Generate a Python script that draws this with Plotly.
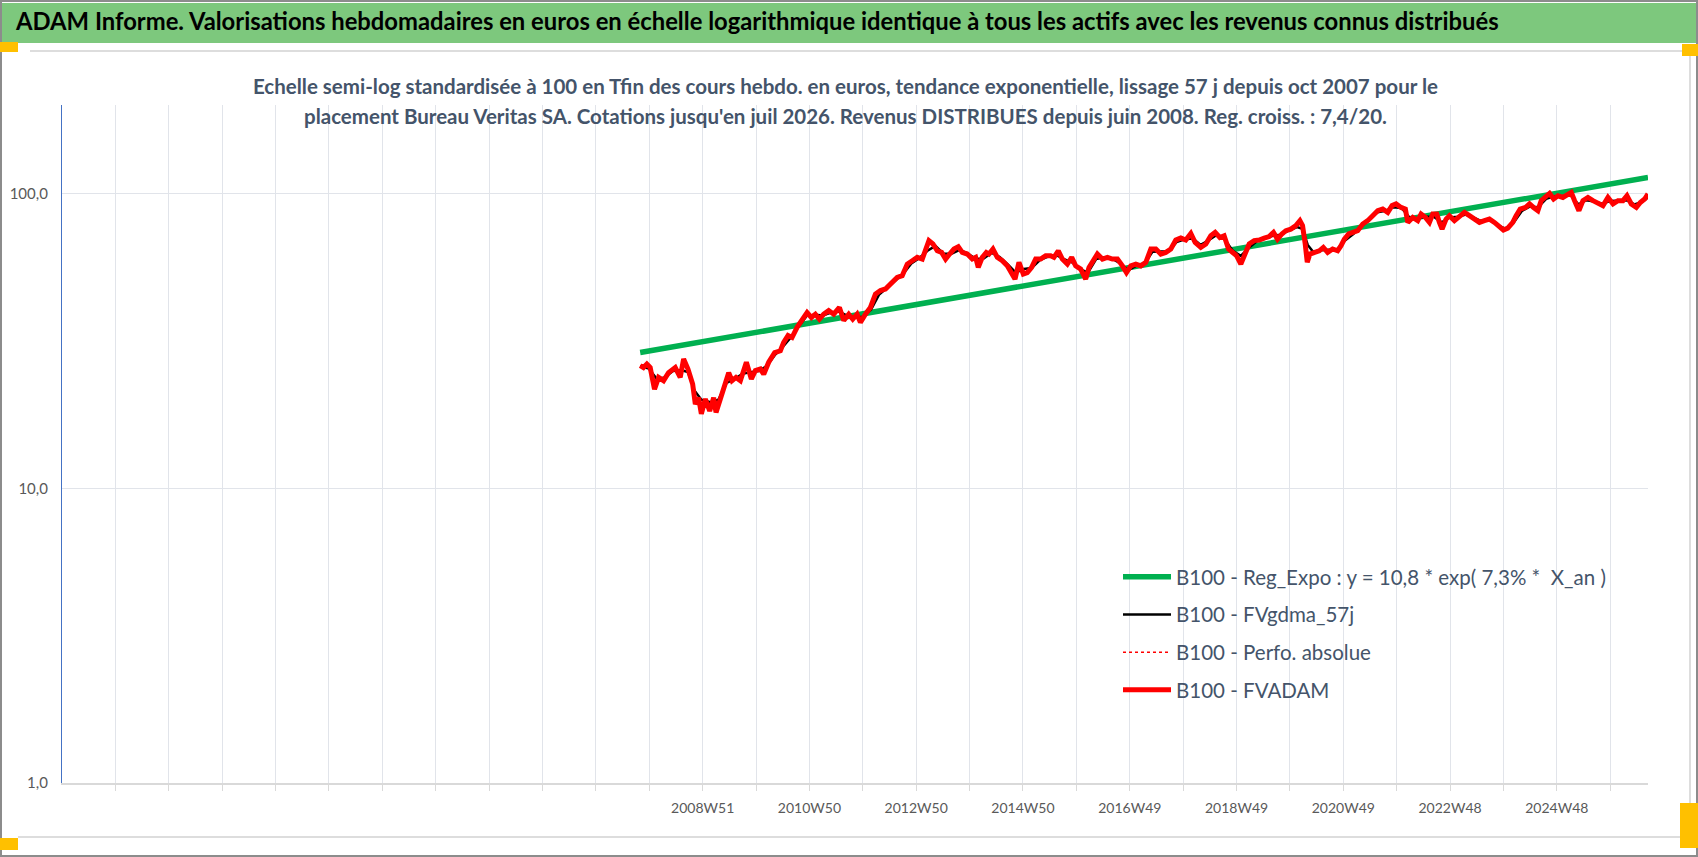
import pandas as pd
import plotly.graph_objects as go

# --- donnees (annees decimales, base 100 en fin de periode) ---
annees_fvadam = [
    2007.789, 2007.851, 2007.914, 2007.976, 2008.057, 2008.132, 2008.225, 2008.318, 2008.443, 2008.536,
    2008.599, 2008.680, 2008.767, 2008.817, 2008.879, 2008.929, 2009.004, 2009.085, 2009.159, 2009.203,
    2009.284, 2009.377, 2009.440, 2009.502, 2009.577, 2009.658, 2009.770, 2009.863, 2009.938, 2010.031,
    2010.094, 2010.187, 2010.299, 2010.405, 2010.467, 2010.548, 2010.623, 2010.717, 2010.810, 2010.904,
    2010.985, 2011.059, 2011.134, 2011.215, 2011.308, 2011.402, 2011.508, 2011.589, 2011.682, 2011.757,
    2011.838, 2011.900, 2011.994, 2012.087, 2012.180, 2012.274, 2012.367, 2012.461, 2012.585, 2012.679,
    2012.773, 2012.866, 2012.959, 2013.053, 2013.115, 2013.177, 2013.252, 2013.333, 2013.414, 2013.489,
    2013.564, 2013.645, 2013.726, 2013.800, 2013.894, 2013.987, 2014.050, 2014.099, 2014.174, 2014.249,
    2014.299, 2014.373, 2014.454, 2014.548, 2014.641, 2014.722, 2014.785, 2014.859, 2014.940, 2015.015,
    2015.096, 2015.171, 2015.264, 2015.358, 2015.451, 2015.513, 2015.594, 2015.669, 2015.763, 2015.844,
    2015.918, 2016.012, 2016.105, 2016.167, 2016.242, 2016.323, 2016.417, 2016.510, 2016.603, 2016.697,
    2016.790, 2016.865, 2016.946, 2017.039, 2017.133, 2017.226, 2017.320, 2017.413, 2017.506, 2017.599,
    2017.693, 2017.786, 2017.880, 2017.973, 2018.067, 2018.148, 2018.253, 2018.347, 2018.440, 2018.521,
    2018.609, 2018.689, 2018.771, 2018.845, 2018.920, 2019.001, 2019.082, 2019.157, 2019.250, 2019.344,
    2019.437, 2019.530, 2019.611, 2019.686, 2019.767, 2019.842, 2019.935, 2020.029, 2020.104, 2020.153,
    2020.203, 2020.241, 2020.290, 2020.371, 2020.465, 2020.540, 2020.621, 2020.714, 2020.807, 2020.870,
    2020.932, 2021.013, 2021.100, 2021.181, 2021.275, 2021.368, 2021.461, 2021.555, 2021.648, 2021.742,
    2021.823, 2021.898, 2021.991, 2022.072, 2022.116, 2022.209, 2022.303, 2022.365, 2022.446, 2022.521,
    2022.583, 2022.658, 2022.707, 2022.757, 2022.832, 2022.894, 2022.988, 2023.081, 2023.175, 2023.268,
    2023.362, 2023.455, 2023.548, 2023.642, 2023.735, 2023.829, 2023.903, 2023.984, 2024.078, 2024.140,
    2024.215, 2024.315, 2024.389, 2024.464, 2024.545, 2024.607, 2024.688, 2024.763, 2024.838, 2024.919,
    2025.012, 2025.106, 2025.168, 2025.230, 2025.311, 2025.386, 2025.479, 2025.573, 2025.666, 2025.760,
    2025.853, 2025.947, 2026.040, 2026.133, 2026.208, 2026.289, 2026.383, 2026.457, 2026.538, 2026.601,
]
fvadam = [
    26.1, 25.7, 26.4, 25.7, 21.7, 23.8, 23.2, 24.7, 25.7, 23.8,
    27.5, 25.4, 22.6, 19.3, 20.3, 17.9, 20.1, 18.3, 20.3, 18.1,
    20.1, 23.2, 24.7, 23.2, 23.8, 23.2, 26.8, 23.5, 25.1, 25.4,
    24.4, 26.8, 28.9, 29.3, 31.3, 33.0, 32.5, 35.2, 37.1, 39.5,
    38.0, 39.0, 37.5, 39.0, 40.1, 39.0, 41.1, 37.1, 39.0, 37.5,
    39.0, 36.6, 39.0, 41.1, 45.6, 46.9, 47.5, 49.4, 52.0, 52.7,
    57.7, 59.2, 60.8, 60.0, 64.0, 69.3, 67.5, 64.0, 63.2, 60.0,
    62.4, 64.9, 66.1, 63.2, 62.4, 60.0, 60.8, 56.2, 60.8, 63.2,
    62.4, 64.9, 60.8, 59.2, 56.9, 54.0, 51.3, 58.5, 53.4, 54.0,
    56.2, 60.0, 60.0, 61.6, 61.6, 60.8, 64.0, 60.0, 57.7, 60.8,
    56.9, 55.5, 51.3, 56.2, 59.2, 62.4, 60.0, 60.8, 60.0, 60.0,
    56.9, 54.0, 56.9, 57.7, 56.9, 58.5, 64.9, 64.9, 62.4, 63.2,
    64.9, 69.6, 70.7, 69.6, 73.3, 68.3, 65.7, 67.5, 72.0, 73.9,
    71.0, 72.0, 64.9, 63.2, 61.6, 57.7, 63.2, 67.5, 69.3, 69.6,
    70.7, 71.5, 73.9, 70.1, 73.0, 74.9, 75.8, 77.9, 81.0, 77.9,
    67.5, 58.5, 62.4, 63.2, 64.0, 65.7, 63.2, 64.9, 64.0, 66.6,
    70.1, 73.0, 73.9, 74.9, 78.9, 81.0, 84.2, 87.6, 88.7, 86.4,
    91.1, 92.3, 89.8, 88.7, 79.9, 83.1, 81.0, 85.3, 83.1, 79.9,
    85.3, 85.3, 79.9, 75.9, 82.0, 84.2, 81.0, 84.2, 86.4, 84.2,
    82.0, 79.9, 81.0, 82.0, 79.9, 76.8, 75.3, 76.4, 79.9, 84.2,
    88.7, 89.8, 92.3, 89.8, 87.6, 94.7, 97.1, 100.2, 95.9, 98.4,
    97.1, 99.8, 101.0, 94.7, 87.6, 94.7, 97.1, 94.7, 92.7, 91.1,
    97.1, 92.3, 94.7, 94.7, 98.4, 92.3, 89.8, 93.4, 95.9, 99.8,
]
# perfo absolue : confondue avec FVADAM sur le graphique
perfo_absolue = list(fvadam)

annees_gdma = [
    2007.79, 2007.95, 2008.10, 2008.25, 2008.40, 2008.55, 2008.68, 2008.80, 2008.93, 2009.10,
    2009.25, 2009.40, 2009.55, 2009.70, 2009.85, 2010.00, 2010.15, 2010.30, 2010.45, 2010.60,
    2010.75, 2010.90, 2011.05, 2011.20, 2011.35, 2011.50, 2011.65, 2011.80, 2011.95, 2012.10,
    2012.25, 2012.40, 2012.55, 2012.70, 2012.85, 2013.00, 2013.15, 2013.30, 2013.45, 2013.60,
    2013.75, 2013.90, 2014.05, 2014.20, 2014.35, 2014.50, 2014.65, 2014.80, 2014.95, 2015.10,
    2015.25, 2015.40, 2015.55, 2015.70, 2015.85, 2016.00, 2016.15, 2016.30, 2016.45, 2016.60,
    2016.75, 2016.90, 2017.05, 2017.20, 2017.35, 2017.50, 2017.65, 2017.80, 2017.95, 2018.10,
    2018.25, 2018.40, 2018.55, 2018.70, 2018.85, 2019.00, 2019.15, 2019.30, 2019.45, 2019.60,
    2019.75, 2019.90, 2020.05, 2020.15, 2020.25, 2020.35, 2020.50, 2020.65, 2020.80, 2020.95,
    2021.10, 2021.25, 2021.40, 2021.55, 2021.70, 2021.85, 2022.00, 2022.15, 2022.30, 2022.45,
    2022.60, 2022.75, 2022.90, 2023.05, 2023.20, 2023.35, 2023.50, 2023.65, 2023.80, 2023.95,
    2024.10, 2024.25, 2024.40, 2024.55, 2024.70, 2024.85, 2025.00, 2025.15, 2025.30, 2025.45,
    2025.60, 2025.75, 2025.90, 2026.05, 2026.20, 2026.35, 2026.50, 2026.60,
]
fvgdma_57j = [
    26.0, 25.5, 23.5, 23.8, 25.0, 25.2, 24.8, 21.5, 20.0, 19.6,
    20.0, 22.8, 23.5, 24.5, 24.8, 25.0, 26.0, 28.3, 30.2, 32.5,
    35.5, 38.5, 38.8, 38.6, 39.5, 39.8, 38.6, 38.0, 38.2, 40.5,
    45.5, 48.0, 51.0, 53.5, 58.0, 60.5, 64.0, 66.5, 62.5, 62.5,
    64.5, 62.8, 60.0, 60.3, 63.0, 61.0, 57.5, 54.0, 55.5, 56.0,
    59.5, 61.2, 62.0, 60.0, 58.5, 55.5, 54.0, 60.0, 60.8, 60.2,
    58.0, 55.0, 57.0, 57.8, 63.5, 63.5, 63.8, 68.5, 70.0, 70.5,
    67.0, 69.5, 72.5, 70.0, 64.0, 61.5, 65.5, 69.0, 70.5, 72.0,
    72.5, 75.0, 77.0, 76.0, 67.0, 63.5, 64.3, 64.5, 64.8, 69.5,
    73.0, 77.5, 82.0, 86.5, 87.5, 90.0, 89.5, 83.0, 82.5, 83.5,
    83.5, 80.0, 83.0, 83.5, 85.0, 83.0, 80.5, 81.5, 78.0, 76.0,
    80.0, 87.5, 90.5, 90.0, 96.0, 98.0, 97.5, 99.0, 92.0, 95.0,
    94.0, 92.5, 94.5, 94.5, 95.0, 92.0, 94.0, 97.0,
]

# tendance exponentielle : extremites de la droite
annees_reg = [2007.789, 2026.601]
reg_expo = [28.9, 113.6]

# etiquettes de l'axe des semaines (une sur deux, tous les 104 semaines)
semaine_ref = "2008-12-15"  # lundi 2008W51
etiquettes_semaines = ["2008W51", "2010W50", "2012W50", "2014W50", "2016W49",
                       "2018W49", "2020W49", "2022W48", "2024W48"]

titre = ("ADAM Informe. Valorisations hebdomadaires en euros en échelle logarithmique "
         "identique à tous les actifs avec les revenus connus distribués")
sous_titre_1 = ("Echelle semi-log standardisée à 100 en Tfin des cours hebdo. en euros, tendance "
                "exponentielle, lissage 57 j depuis oct 2007 pour le")
sous_titre_2 = ("placement Bureau Veritas SA. Cotations jusqu'en juil 2026. Revenus DISTRIBUES "
                "depuis juin 2008. Reg. croiss. : 7,4/20.")


def to_dates(annees):
    res = []
    for a in annees:
        an = int(a)
        d0 = pd.Timestamp(an, 1, 1)
        d1 = pd.Timestamp(an + 1, 1, 1)
        res.append(d0 + (d1 - d0) * (a - an))
    return res


W, H = 1698, 857
ML, MR, MT, MB = 62, 50, 105, 74
PW, PH = W - ML - MR, H - MT - MB


def px_x(x):
    return (x - ML) / PW


def px_y(y):
    return (H - MB - y) / PH


FONT = "Lato, 'Open Sans', sans-serif"
GRIS_TXT = "#44546A"

fig = go.Figure()
fig.add_trace(go.Scatter(x=to_dates(annees_reg), y=reg_expo, mode="lines",
                         name="B100 - Reg_Expo : y = 10,8 * exp( 7,3% *  X_an )",
                         line=dict(color="#00B050", width=5.5), legendgroup="a"))
fig.add_trace(go.Scatter(x=to_dates(annees_gdma), y=fvgdma_57j, mode="lines",
                         name="B100 - FVgdma_57j",
                         line=dict(color="black", width=2.5), legendgroup="b"))
fig.add_trace(go.Scatter(x=to_dates(annees_fvadam), y=perfo_absolue, mode="lines",
                         name="B100 - Perfo. absolue",
                         line=dict(color="#FF0000", width=1.5, dash="dot"), legendgroup="c"))
fig.add_trace(go.Scatter(x=to_dates(annees_fvadam), y=fvadam, mode="lines",
                         name="B100 - FVADAM",
                         line=dict(color="#FF0000", width=5), legendgroup="d"))

# grille hebdo : un trait toutes les 52 semaines
base = pd.Timestamp(semaine_ref)
tickvals, ticktext = [], []
for k in range(-11, 18):
    tickvals.append(base + pd.Timedelta(weeks=52 * k))
    if k >= 0 and k % 2 == 0 and k // 2 < len(etiquettes_semaines):
        ticktext.append(etiquettes_semaines[k // 2])
    else:
        ticktext.append("")
x_debut = base - pd.Timedelta(weeks=52 * 12)
x_fin = to_dates(annees_fvadam)[-1]

fig.update_xaxes(range=[x_debut, x_fin], tickmode="array", tickvals=tickvals, ticktext=ticktext,
                 showgrid=True, gridcolor="#E1E4EA", gridwidth=1.3,
                 showline=True, linecolor="#D9D9D9", linewidth=1.5,
                 ticks="outside", ticklen=6, tickcolor="#D9D9D9",
                 tickfont=dict(family=FONT, size=14, color="#595959"),
                 ticklabelstandoff=5, automargin=False, zeroline=False)
fig.update_yaxes(type="log", range=[0, 2.301], tickmode="array",
                 tickvals=[1, 10, 100], ticktext=["1,0", "10,0", "100,0"],
                 showgrid=True, gridcolor="#E1E4EA", gridwidth=1.3,
                 showline=True, linecolor="#4472C4", linewidth=1.2,
                 ticks="", tickfont=dict(family=FONT, size=15, color="#595959"),
                 ticklabelstandoff=10, automargin=False, zeroline=False)

shapes = [
    # bandeau vert du titre
    dict(type="rect", xref="paper", yref="paper", x0=px_x(2), x1=px_x(W - 2), y0=px_y(43), y1=px_y(3),
         fillcolor="#7DC87D", line=dict(width=0), layer="below"),
    # cadre de la zone graphique
    dict(type="line", xref="paper", yref="paper", x0=px_x(30), x1=px_x(1690), y0=px_y(51), y1=px_y(51),
         line=dict(color="#DDDDDD", width=2)),
    dict(type="line", xref="paper", yref="paper", x0=px_x(1690), x1=px_x(1690), y0=px_y(51), y1=px_y(837),
         line=dict(color="#DDDDDD", width=2)),
    dict(type="line", xref="paper", yref="paper", x0=px_x(18), x1=px_x(1690), y0=px_y(837), y1=px_y(837),
         line=dict(color="#DDDDDD", width=2)),
    # bordure exterieure
    dict(type="rect", xref="paper", yref="paper", x0=px_x(1), x1=px_x(W - 1), y0=px_y(H - 1), y1=px_y(1),
         line=dict(color="#8C8C8C", width=2)),
]
# poignees jaunes de selection
for x0, x1, y0, y1 in [(0, 18, 42, 52), (1682, 1698, 44, 56), (1680, 1698, 803, 848), (0, 18, 838, 850)]:
    shapes.append(dict(type="rect", xref="paper", yref="paper", x0=px_x(x0), x1=px_x(x1),
                       y0=px_y(y1), y1=px_y(y0), fillcolor="#FFC000", line=dict(width=0)))

annotations = [
    dict(text="<b>" + titre + "</b>", xref="paper", yref="paper", x=px_x(13), y=px_y(21),
         xanchor="left", yanchor="middle", showarrow=False,
         font=dict(family=FONT, size=23.8, color="black")),
    dict(text="<b>" + sous_titre_1 + "</b>", xref="paper", yref="paper", x=px_x(845), y=px_y(86),
         xanchor="center", yanchor="middle", showarrow=False,
         font=dict(family=FONT, size=20.5, color=GRIS_TXT)),
    dict(text="<b>" + sous_titre_2 + "</b>", xref="paper", yref="paper", x=px_x(845), y=px_y(116),
         xanchor="center", yanchor="middle", showarrow=False,
         font=dict(family=FONT, size=20.5, color=GRIS_TXT)),
]

fig.update_layout(
    width=W, height=H, margin=dict(l=ML, r=MR, t=MT, b=MB),
    paper_bgcolor="white", plot_bgcolor="white",
    shapes=shapes, annotations=annotations,
    showlegend=True,
    legend=dict(x=px_x(1118), y=px_y(557), xanchor="left", yanchor="top",
                traceorder="grouped", tracegroupgap=8, itemwidth=48, bgcolor="rgba(0,0,0,0)",
                font=dict(family=FONT, size=20.5, color=GRIS_TXT)),
)

fig.write_html("out.html", config={"displayModeBar": False},
               post_script="document.body.style.margin='0px';")
